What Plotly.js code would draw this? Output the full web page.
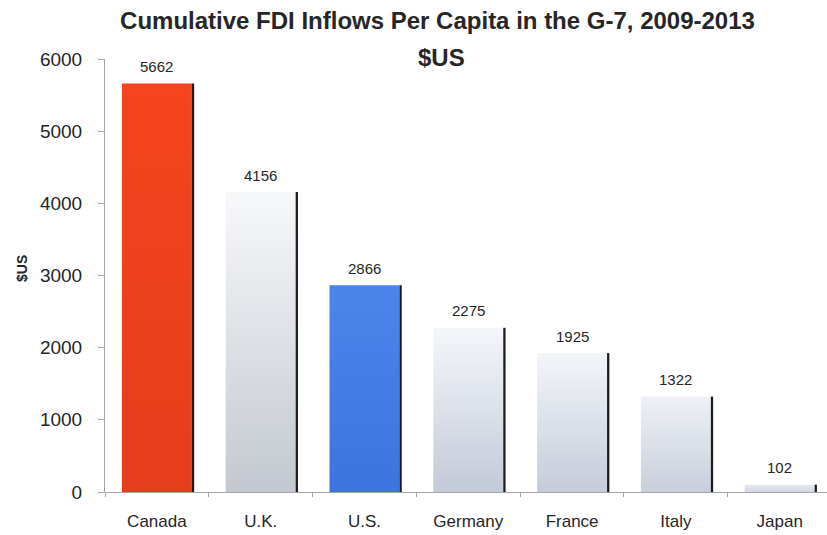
<!DOCTYPE html>
<html><head><meta charset="utf-8">
<script src="https://cdn.plot.ly/plotly-3.0.1.min.js"></script>
<style>html,body{margin:0;padding:0;background:#fff}</style>
</head><body><div id="chart" style="width:827px;height:535px"></div>
<script>
const countries = ["Canada", "U.K.", "U.S.", "Germany", "France", "Italy", "Japan"];
const fdiPerCapita = [5662, 4156, 2866, 2275, 1925, 1322, 102];
const valueLabels = ["5662", "4156", "2866", "2275", "1925", "1322", "102"];
const yTickValues = [0, 1000, 2000, 3000, 4000, 5000, 6000];
const yTickLabels = ["0", "1000", "2000", "3000", "4000", "5000", "6000"];
const barTopColors = ["#f5441f", "#f7f8fa", "#4a86ea", "#f4f6fa", "#f3f5f9", "#eef1f6", "#e4e9f1"];
const barBottomColors = ["#e63d1c", "#c3c8d0", "#3b74de", "#c3cad8", "#c5ccd9", "#c8cfdb", "#d2d8e4"];

const FONT = '"Liberation Sans", Arial, sans-serif';
const TXT = '#262626';

const bars = {
  type: 'bar', x: countries, y: fdiPerCapita,
  width: 0.674, offset: -0.337,
  marker: {color: barBottomColors, line: {width: 0}},
  hoverinfo: 'skip'
};
const shadows = {
  type: 'bar', x: countries, y: fdiPerCapita,
  width: 0.022, offset: 0.337,
  marker: {color: '#1c1c1c', line: {width: 0}},
  hoverinfo: 'skip'
};

const valueAnns = countries.map((c, i) => ({
  x: c, y: fdiPerCapita[i], xref: 'x', yref: 'y',
  text: valueLabels[i], showarrow: false, yshift: 17, yanchor: 'middle',
  font: {family: FONT, size: 15, color: TXT}
}));

const layout = {
  width: 827, height: 535,
  margin: {l: 105, r: 0, t: 59, b: 43},
  paper_bgcolor: '#fff', plot_bgcolor: '#fff',
  showlegend: false, barmode: 'overlay',
  font: {family: FONT, color: TXT},
  title: {
    text: 'Cumulative FDI Inflows Per Capita in the G-7, 2009-2013',
    font: {family: FONT, size: 24, weight: 'bold', color: TXT},
    x: 437.5 / 827, xanchor: 'center', xref: 'container',
    y: 1 - 21 / 535, yanchor: 'middle', yref: 'container'
  },
  xaxis: {
    type: 'category', range: [-0.5, 6.456], fixedrange: true,
    showline: true, linecolor: '#a6a6a6', linewidth: 1,
    ticks: 'outside', tickson: 'boundaries', ticklen: 4, tickcolor: '#a6a6a6',
    tickfont: {family: FONT, size: 17, color: TXT},
    ticklabelstandoff: 14, showgrid: false, zeroline: false
  },
  yaxis: {
    range: [0, 6000], tickvals: yTickValues, ticktext: yTickLabels,
    showline: true, linecolor: '#a6a6a6', linewidth: 1,
    ticks: 'outside', ticklen: 6, tickcolor: '#a6a6a6',
    tickfont: {family: FONT, size: 19, color: TXT},
    ticklabelstandoff: 12, showgrid: false, zeroline: false
  },
  annotations: valueAnns.concat([
    {text: '$US', xref: 'paper', yref: 'paper', x: (441.5 - 105) / 722, y: (492 - 57) / 433,
     xanchor: 'center', yanchor: 'middle', showarrow: false,
     font: {family: FONT, size: 24, weight: 'bold', color: TXT}},
    {text: '$US', xref: 'paper', yref: 'paper', x: (22 - 105) / 722, y: (492 - 269) / 433,
     xanchor: 'center', yanchor: 'middle', showarrow: false, textangle: -90,
     font: {family: FONT, size: 14, weight: 'bold', color: TXT}}
  ])
};

Plotly.newPlot('chart', [bars, shadows], layout, {displayModeBar: false, staticPlot: true}).then(gd => {
  const svg = gd.querySelector('svg.main-svg');
  const NS = 'http://www.w3.org/2000/svg';
  const defs = document.createElementNS(NS, 'defs');
  barTopColors.forEach((top, i) => {
    const g = document.createElementNS(NS, 'linearGradient');
    g.setAttribute('id', 'barGrad' + i);
    g.setAttribute('x1', '0'); g.setAttribute('y1', '0');
    g.setAttribute('x2', '0'); g.setAttribute('y2', '1');
    const s1 = document.createElementNS(NS, 'stop');
    s1.setAttribute('offset', '0'); s1.setAttribute('stop-color', top);
    const s2 = document.createElementNS(NS, 'stop');
    s2.setAttribute('offset', '1'); s2.setAttribute('stop-color', barBottomColors[i]);
    g.appendChild(s1); g.appendChild(s2); defs.appendChild(g);
  });
  svg.insertBefore(defs, svg.firstChild);
  const traces = gd.querySelectorAll('.barlayer .trace');
  traces[0].querySelectorAll('.point path').forEach((p, i) => {
    p.style.fill = 'url(#barGrad' + i + ')';
  });
});
</script>
</body></html>
